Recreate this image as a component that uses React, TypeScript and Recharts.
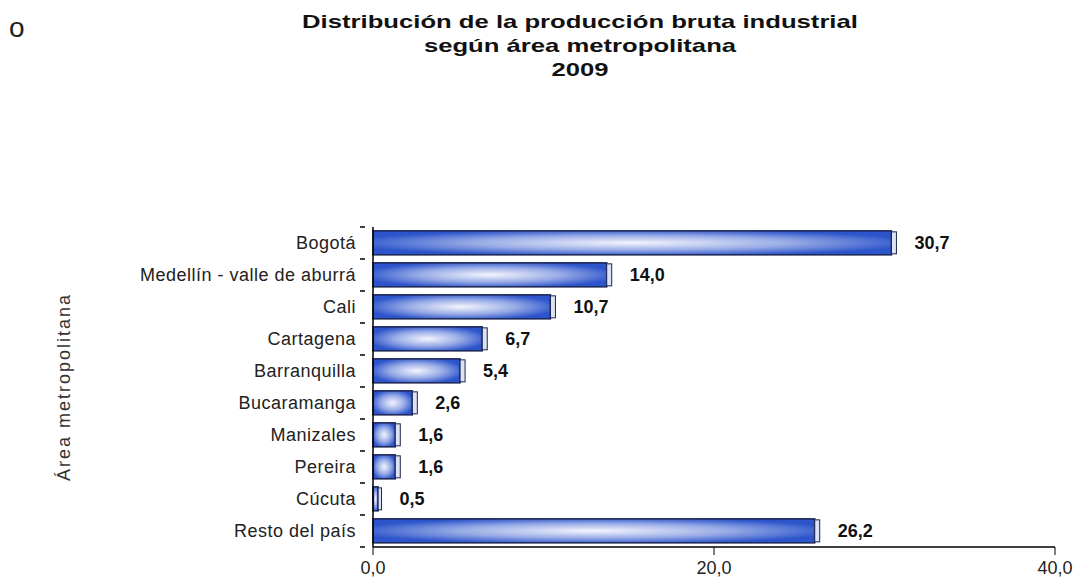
import React from 'react';
import { BarChart, Bar, XAxis, YAxis, LabelList } from 'recharts';

const areas = [
  'Bogotá',
  'Medellín - valle de aburrá',
  'Cali',
  'Cartagena',
  'Barranquilla',
  'Bucaramanga',
  'Manizales',
  'Pereira',
  'Cúcuta',
  'Resto del país',
];
const shares = [30.7, 14.0, 10.7, 6.7, 5.4, 2.6, 1.6, 1.6, 0.5, 26.2];
const xTicks = [0, 20, 40];

const data = areas.map((area, i) => ({ area, share: shares[i] }));

const fmt = (v: number) => v.toFixed(1).replace('.', ',');
const font = '"Liberation Sans", Arial, sans-serif';
const BAND = 32;

// bar with a little 3d end cap
const GlossBar = (props: any) => {
  const { x, y, width, height } = props;
  if (!width || width <= 0) return null;
  const cap = Math.min(5, width * 0.4);
  return (
    <g>
      <rect x={x} y={y} width={width - cap} height={height} fill="url(#barGlow)" stroke="#1b2550" strokeWidth={1.5} />
      <rect x={x + width - cap} y={y + 1} width={cap} height={height - 2} fill="#dce3f5" stroke="#1b2550" strokeWidth={1} />
    </g>
  );
};

// category label, tick marks sit between the bands like the original
const AreaTick = (props: any) => {
  const { x, y, payload, index } = props;
  return (
    <g>
      <line x1={x - 5} x2={x} y1={y - BAND / 2} y2={y - BAND / 2} stroke="#000" strokeWidth={1.5} />
      {index === areas.length - 1 && (
        <line x1={x - 5} x2={x} y1={y + BAND / 2} y2={y + BAND / 2} stroke="#000" strokeWidth={1.5} />
      )}
      <text
        x={x - 9}
        y={y}
        dy="0.35em"
        textAnchor="end"
        fill="#222"
        fontSize={18}
        letterSpacing={0.5}
        fontFamily={font}
      >
        {payload.value}
      </text>
    </g>
  );
};

export default function App() {
  return (
    <div style={{ position: 'absolute', left: 0, top: 0, width: 1078, height: 582, background: '#fff', fontFamily: font }}>
      <div style={{ position: 'absolute', left: 9, top: 12, fontSize: 28, lineHeight: '32px', color: '#222' }}>o</div>
      <div
        style={{
          position: 'absolute',
          left: 280,
          width: 600,
          top: 10,
          textAlign: 'center',
          fontWeight: 'bold',
          fontSize: 19,
          lineHeight: '24px',
          color: '#111',
          transform: 'scaleX(1.35)',
          transformOrigin: 'center',
        }}
      >
        <div>Distribución de la producción bruta industrial</div>
        <div>según área metropolitana</div>
        <div>2009</div>
      </div>
      <BarChart
        width={1078}
        height={582}
        data={data}
        layout="vertical"
        margin={{ top: 227, right: 23, left: 0, bottom: 0 }}
        barCategoryGap="12%"
      >
        <defs>
          <radialGradient id="barGlow" cx="50%" cy="50%" r="55%">
            <stop offset="0%" stopColor="#f4f6fd" />
            <stop offset="55%" stopColor="#98abe6" />
            <stop offset="100%" stopColor="#2c55cb" />
          </radialGradient>
        </defs>
        <XAxis
          type="number"
          domain={[0, 40]}
          ticks={xTicks}
          tickFormatter={fmt}
          height={35}
          stroke="#000"
          tickSize={8}
          tickMargin={6}
          tick={{ fill: '#222', fontSize: 18, fontFamily: font }}
          axisLine={{ stroke: '#000', strokeWidth: 1.5 }}
        />
        <YAxis
          type="category"
          dataKey="area"
          width={373}
          stroke="#000"
          tickLine={false}
          tick={<AreaTick />}
          axisLine={{ stroke: '#000', strokeWidth: 1.5 }}
          label={{
            value: 'Área metropolitana',
            angle: -90,
            position: 'insideLeft',
            offset: 64,
            style: { fill: '#333', fontSize: 18, letterSpacing: 2, fontFamily: font, textAnchor: 'middle' },
          }}
        />
        <Bar dataKey="share" shape={GlossBar} isAnimationActive={false}>
          <LabelList
            dataKey="share"
            position="right"
            offset={18}
            formatter={(v: any) => fmt(Number(v))}
            style={{ fill: '#111', fontSize: 18, fontWeight: 'bold', fontFamily: font }}
          />
        </Bar>
      </BarChart>
    </div>
  );
}
